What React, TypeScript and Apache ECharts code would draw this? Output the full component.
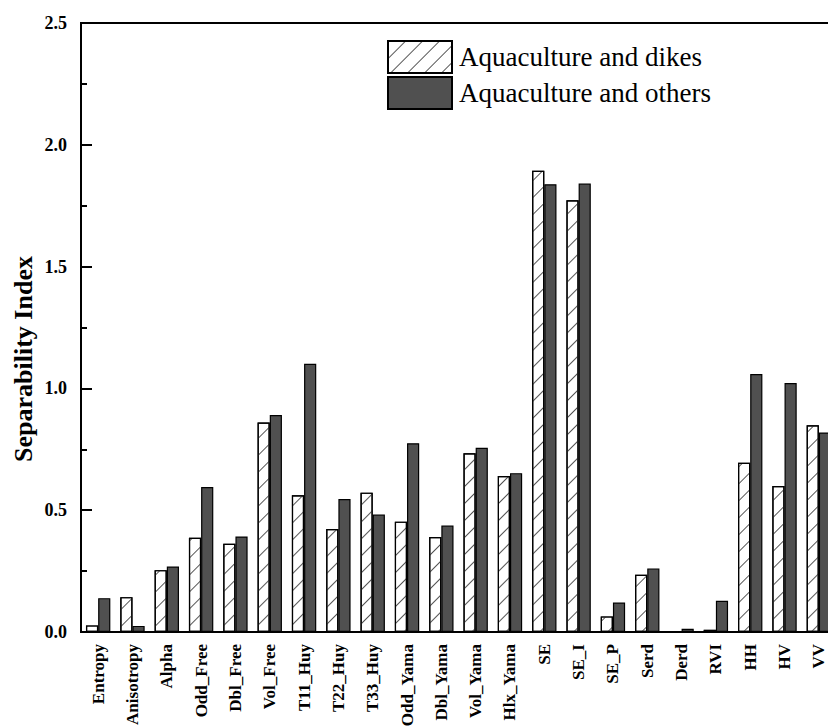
import React, { useEffect, useRef } from "react";
import * as echarts from "echarts";

const categories = [
  "Entropy", "Anisotropy", "Alpha", "Odd_Free", "Dbl_Free", "Vol_Free",
  "T11_Huy", "T22_Huy", "T33_Huy", "Odd_Yama", "Dbl_Yama", "Vol_Yama",
  "Hlx_Yama", "SE", "SE_I", "SE_P", "Serd", "Derd", "RVI", "HH", "HV", "VV",
];

const dikesValues = [
  0.027, 0.143, 0.254, 0.387, 0.362, 0.860, 0.561, 0.423, 0.572, 0.453, 0.390,
  0.734, 0.640, 1.893, 1.772, 0.064, 0.235, 0.003, 0.009, 0.695, 0.599, 0.849,
];

const othersValues = [
  0.139, 0.025, 0.269, 0.595, 0.392, 0.891, 1.101, 0.546, 0.482, 0.775, 0.437,
  0.756, 0.652, 1.838, 1.841, 0.121, 0.261, 0.013, 0.128, 1.059, 1.022, 0.819,
];

const seriesNames = ["Aquaculture and dikes", "Aquaculture and others"];
const yTicks = { min: 0, max: 2.5, interval: 0.5 };
const yAxisTitle = "Separability Index";

const SERIF = "'Liberation Serif', 'Times New Roman', serif";

export default function App() {
  const ref = useRef<HTMLDivElement>(null);
  useEffect(() => {
    document.body.style.margin = "0";
    document.body.style.overflow = "hidden";
    if (!ref.current) return;
    const chart = echarts.init(ref.current, null, { renderer: "svg" });
    const hatch = {
      symbol: "rect",
      symbolSize: 1,
      color: "#555555",
      backgroundColor: "#ffffff",
      dashArrayX: [1, 0],
      dashArrayY: [1, 11],
      rotation: -Math.PI / 4,
    };
    chart.setOption({
      animation: false,
      backgroundColor: "#ffffff",
      textStyle: { fontFamily: SERIF },
      grid: {
        left: 81,
        top: 23,
        bottom: 95,
        right: 14,
        containLabel: false,
        outerBoundsMode: "none",
        show: true,
        borderColor: "#000",
        borderWidth: 2,
      },
      legend: {
        orient: "vertical",
        left: 382,
        top: 35,
        itemWidth: 64,
        itemHeight: 32,
        itemGap: 2,
        icon: "rect",
        textStyle: {
          fontFamily: SERIF,
          fontSize: 27,
          color: "#000",
          padding: [0, 0, 0, 2],
        },
        data: seriesNames,
      },
      xAxis: {
        type: "category",
        data: categories,
        axisLine: { lineStyle: { color: "#000", width: 2 } },
        axisTick: { show: false },
        axisLabel: {
          rotate: 90,
          interval: 0,
          margin: 12,
          fontSize: 17,
          fontWeight: "bold",
          fontFamily: SERIF,
          color: "#000",
          hideOverlap: false,
        },
      },
      yAxis: {
        type: "value",
        min: yTicks.min,
        max: yTicks.max,
        interval: yTicks.interval,
        splitLine: { show: false },
        axisLine: { show: true, lineStyle: { color: "#000", width: 2 } },
        axisTick: { show: true, inside: true, length: 11, lineStyle: { color: "#000", width: 2 } },
        minorTick: { show: true, splitNumber: 2, length: 6, lineStyle: { color: "#000", width: 2 } },
        axisLabel: {
          margin: 14,
          fontSize: 18,
          fontWeight: "bold",
          fontFamily: SERIF,
          color: "#000",
          formatter: (v: number) => v.toFixed(1),
        },
      },
      graphic: [
        {
          type: "text",
          x: 23,
          y: 359,
          rotation: Math.PI / 2,
          style: {
            text: yAxisTitle,
            fontFamily: SERIF,
            fontSize: 26,
            fontWeight: "bold",
            fill: "#000",
            textAlign: "center",
            textVerticalAlign: "middle",
          },
        },
      ],
      series: [
        {
          name: seriesNames[0],
          type: "bar",
          data: dikesValues,
          barGap: "0%",
          barCategoryGap: "29%",
          itemStyle: {
            color: "#ffffff",
            borderColor: "#000",
            borderWidth: 1.2,
            decal: hatch,
          },
        },
        {
          name: seriesNames[1],
          type: "bar",
          data: othersValues,
          barGap: "0%",
          barCategoryGap: "29%",
          itemStyle: {
            color: "#505050",
            borderColor: "#000",
            borderWidth: 1.2,
          },
        },
      ],
    });
    return () => chart.dispose();
  }, []);
  return (
    <div style={{ width: 828, height: 727, overflow: "hidden", position: "relative" }}>
      <div ref={ref} style={{ width: 850, height: 727 }} />
    </div>
  );
}
